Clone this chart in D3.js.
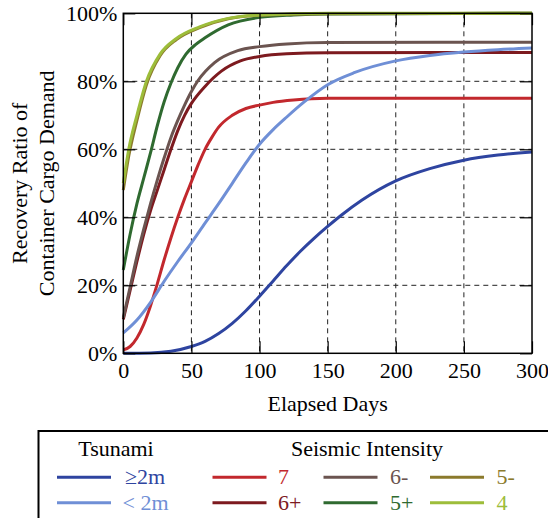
<!DOCTYPE html>
<html>
<head>
<meta charset="utf-8">
<script src="https://cdn.jsdelivr.net/npm/d3@7"></script>
<style>
  body { margin: 0; background: #fff; }
  svg { display: block; }
</style>
</head>
<body>
<svg id="chart" width="548" height="518" font-family="Liberation Serif, DejaVu Serif, serif"></svg>
<script>
// Dane: [dzień, procent]
var tsunamiHigh = [[0,0],[20,0.1],[35,0.6],[50,2],[60,3.5],[70,5.8],[80,8.8],[90,12.5],[100,16.8],[110,21.3],[120,25.8],[130,30],[140,33.8],[150,37.3],[160,40.6],[175,45],[200,50.7],[225,54.3],[250,56.8],[275,58.3],[300,59.2]];
var tsunamiLow = [[0,6],[10,9.8],[20,15],[30,21.2],[40,27],[50,32.5],[60,38.3],[70,44],[80,50],[90,56],[100,61.5],[110,65.8],[120,69.5],[133,74],[150,79],[170,82.6],[200,86],[225,87.6],[250,88.6],[275,89.3],[300,89.8]];
var int7 = [[0,1],[5,2],[10,4.5],[15,8.5],[20,14],[25,20.5],[30,27.5],[35,34],[40,40],[45,45.5],[50,50.5],[55,55.5],[60,60],[65,63.5],[70,66.5],[80,70],[90,72],[100,73],[110,73.8],[125,74.5],[150,75],[300,75]];
var int6plus = [[0,10],[5,18.5],[10,27],[15,35],[20,42],[25,48],[30,54],[35,60],[40,65.5],[45,70],[50,73.5],[60,78.5],[72,83],[86,86],[100,87.3],[120,88.1],[150,88.4],[300,88.5]];
var int6minus = [[0,10.5],[5,19.5],[10,28.5],[15,36.5],[20,44],[25,51],[30,57.5],[35,63.5],[40,68.5],[45,73],[50,77],[55,80.3],[67,85.5],[84,89],[100,90.2],[120,91],[150,91.4],[300,91.5]];
var int5plus = [[0,24.5],[5,35],[10,44],[15,51.5],[20,59],[25,67],[30,74],[35,79.5],[40,84],[46,88],[53,90.8],[60,92.8],[77,96.6],[100,98.8],[125,99.5],[150,99.8],[300,100]];
var int5minus = [[0,48],[4,58],[10,68.5],[17,79],[27,87.5],[39,92.3],[56,95.8],[77,98.4],[100,99.4],[150,99.9],[300,100]];
var int4 = [[0,50],[4,60],[10,70],[17,80],[27,88],[39,92.6],[56,96],[77,98.5],[100,99.5],[150,100],[300,100]];

var xTicks = [0, 50, 100, 150, 200, 250, 300];
var yTicks = [0, 20, 40, 60, 80, 100];

var fontFam = "Liberation Serif, DejaVu Serif, serif";

// Serie: nazwa, dane, kolor (kolejność rysowania)
var series = [
  { name: "7", data: int7, color: "#c2282d" },
  { name: "6+", data: int6plus, color: "#7d1a1f" },
  { name: "6-", data: int6minus, color: "#6b5450" },
  { name: "5+", data: int5plus, color: "#2f6a30" },
  { name: "5-", data: int5minus, color: "#8b7a2c" },
  { name: "4", data: int4, color: "#9dbd3a" },
  { name: "≥2m", data: tsunamiHigh, color: "#2e44a0" },
  { name: "< 2m", data: tsunamiLow, color: "#6f8fd6" }
];

var svg = d3.select("#chart");
var pLeft = 123.3, pRight = 532, pTop = 13.3, pBottom = 353.3;

var x = d3.scaleLinear().domain([0, 300]).range([pLeft, pRight]);
var y = d3.scaleLinear().domain([0, 100]).range([pBottom, pTop]);

// Siatka (linie przerywane)
svg.append("g").selectAll("line")
  .data(xTicks.slice(1, -1))
  .enter().append("line")
  .attr("x1", function (d) { return x(d); }).attr("x2", function (d) { return x(d); })
  .attr("y1", pTop).attr("y2", pBottom)
  .style("stroke", "#222").style("stroke-dasharray", "5,4");
svg.append("g").selectAll("line")
  .data(yTicks.slice(1, -1))
  .enter().append("line")
  .attr("x1", pLeft).attr("x2", pRight)
  .attr("y1", function (d) { return y(d); }).attr("y2", function (d) { return y(d); })
  .style("stroke", "#222").style("stroke-dasharray", "5,4");

// Krzywe
var line = d3.line()
  .x(function (d) { return x(d[0]); })
  .y(function (d) { return y(d[1]); })
  .curve(d3.curveMonotoneX);

svg.append("g").selectAll("path")
  .data(series)
  .enter().append("path")
  .attr("d", function (d) { return line(d.data); })
  .style("fill", "none")
  .style("stroke", function (d) { return d.color; })
  .style("stroke-width", 3);

// Osie z krótkimi kreskami do środka
var tickLen = 12;
svg.append("g").attr("transform", "translate(0," + pBottom + ")")
  .call(d3.axisBottom(x).tickValues(xTicks).tickSize(-tickLen).tickPadding(9))
  .call(function (g) { g.select(".domain").remove(); });
svg.append("g").attr("transform", "translate(0," + pTop + ")")
  .call(d3.axisTop(x).tickValues(xTicks).tickSize(-tickLen).tickFormat(""))
  .call(function (g) { g.select(".domain").remove(); });
svg.append("g").attr("transform", "translate(" + pLeft + ",0)")
  .call(d3.axisLeft(y).tickValues(yTicks).tickSize(-tickLen).tickPadding(6)
    .tickFormat(function (d) { return d + "%"; }))
  .call(function (g) { g.select(".domain").remove(); });
svg.append("g").attr("transform", "translate(" + pRight + ",0)")
  .call(d3.axisRight(y).tickValues(yTicks).tickSize(-tickLen).tickFormat(""))
  .call(function (g) { g.select(".domain").remove(); });

svg.selectAll(".tick line").style("stroke", "#000").style("stroke-width", 1.2);
svg.selectAll(".tick text")
  .attr("font-size", 22)
  .style("fill", "#000");

// Ramka
svg.append("rect")
  .attr("x", pLeft).attr("y", pTop)
  .attr("width", pRight - pLeft).attr("height", pBottom - pTop)
  .style("fill", "none").style("stroke", "#000").style("stroke-width", 1.5);

// Tytuły osi
svg.append("text")
  .attr("x", (pLeft + pRight) / 2).attr("y", 411)
  .attr("text-anchor", "middle")
  .attr("font-size", 22)
  .text("Elapsed Days");

var yTitle = svg.append("text")
  .attr("transform", "translate(0," + ((pTop + pBottom) / 2) + ") rotate(-90)")
  .attr("text-anchor", "middle")
  .attr("font-size", 22);
yTitle.append("tspan").attr("x", 0).attr("y", 27).text("Recovery Ratio of");
yTitle.append("tspan").attr("x", 0).attr("y", 54).text("Container Cargo Demand");

// Legenda
var legend = svg.append("g");
legend.append("rect")
  .attr("x", 38.5).attr("y", 431)
  .attr("width", 540).attr("height", 120)
  .style("fill", "#fff").style("stroke", "#000").style("stroke-width", 2);

legend.append("text").attr("x", 116).attr("y", 456)
  .attr("text-anchor", "middle").attr("font-size", 22).text("Tsunami");
legend.append("text").attr("x", 367).attr("y", 456)
  .attr("text-anchor", "middle").attr("font-size", 22).text("Seismic Intensity");

var legendItems = [
  { s: series[6], x: 57, row: 0, lx: 125 },
  { s: series[7], x: 57, row: 1, lx: 122.5 },
  { s: series[0], x: 212.5, row: 0, lx: 278 },
  { s: series[1], x: 212.5, row: 1, lx: 278 },
  { s: series[2], x: 323.5, row: 0, lx: 390 },
  { s: series[3], x: 323.5, row: 1, lx: 390 },
  { s: series[4], x: 430, row: 0, lx: 496.5 },
  { s: series[5], x: 430, row: 1, lx: 496.5 }
];
var rowY = [477.3, 502.7];

var item = legend.selectAll(".item")
  .data(legendItems)
  .enter().append("g").attr("class", "item");
item.append("line")
  .attr("x1", function (d) { return d.x; })
  .attr("x2", function (d) { return d.x + 54; })
  .attr("y1", function (d) { return rowY[d.row]; })
  .attr("y2", function (d) { return rowY[d.row]; })
  .style("stroke", function (d) { return d.s.color; })
  .style("stroke-width", 3);
item.append("text")
  .attr("x", function (d) { return d.lx; })
  .attr("y", function (d) { return rowY[d.row] + 7; })
  .attr("font-size", 22)
  .style("fill", function (d) { return d.s.color; })
  .text(function (d) { return d.s.name; });

// Wszystkie teksty jednym krojem pisma
svg.selectAll("text").attr("font-family", fontFam);
svg.selectAll("g").attr("font-family", fontFam);
</script>
</body>
</html>
